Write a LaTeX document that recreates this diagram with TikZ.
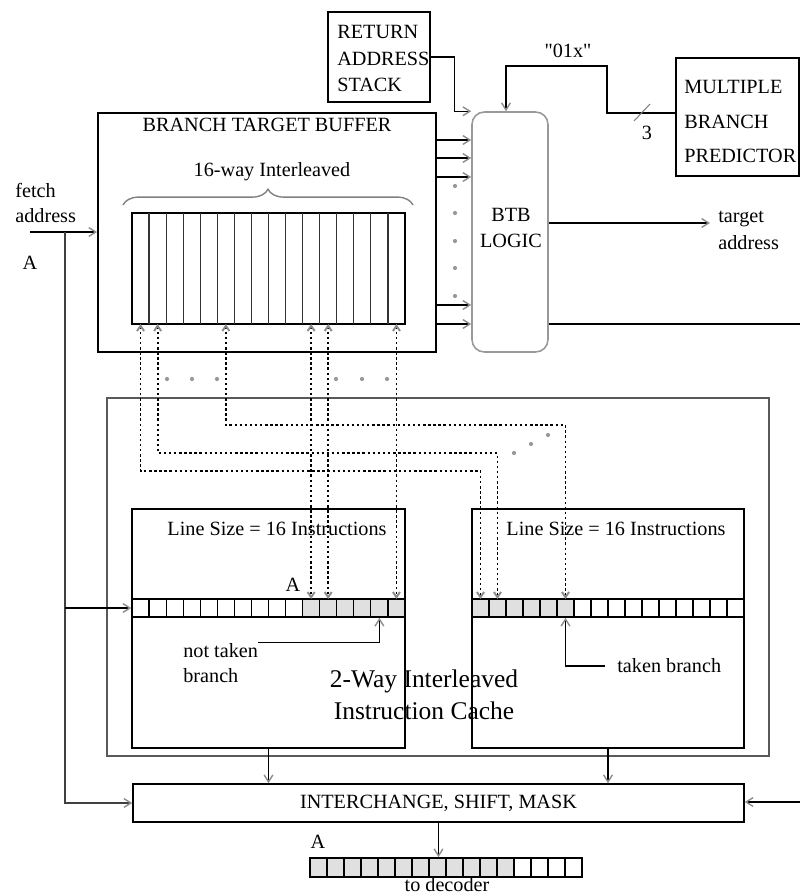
\documentclass[tikz,border=0pt]{standalone}
\usepackage{fontspec}
\setmainfont{Liberation Serif}
\newfontfamily\qfont{Liberation Serif}[Ligatures=TeXOff]
\usetikzlibrary{arrows.meta,decorations.pathreplacing,calc}
\begin{document}
\begin{tikzpicture}[x=0.02cm,y=-0.02cm,
  font=\fontsize{11.5}{14}\selectfont,
  >={Straight Barb[length=4pt,width=5pt,color=black!45]},
  txt/.style={inner sep=0pt},
  box/.style={draw, line width=0.9pt, inner sep=0pt},
  arr/.style={->, line width=0.8pt},
  ln/.style={line width=0.8pt},
  dl/.style={{Straight Barb[length=3pt,width=4pt,color=black!45]}-{Straight Barb[length=3pt,width=4pt,color=black!45]}, line width=1.1pt, dash pattern=on 1.4pt off 1.5pt},
  cellfill/.style={fill=black!12},
  dotc/.style={fill=black!40}
]
\useasboundingbox (0,0) rectangle (800,894);

% gray cells
\foreach \i in {10,...,15} \fill[cellfill] ({132+\i*17.0625},599) rectangle ({132+(\i+1)*17.0625},617);
\foreach \i in {0,...,5} \fill[cellfill] ({472+\i*17},599) rectangle ({472+(\i+1)*17},617);
\foreach \i in {0,...,11} \fill[cellfill] ({310+\i*17},858) rectangle ({310+(\i+1)*17},877);

% boxes
\node[box, minimum width=2.04cm, minimum height=1.8cm] (ras) at (379,57) {};
\node[box, line width=1pt, minimum width=6.76cm, minimum height=4.78cm] (btb) at (267,232.5) {};
\node[box, minimum width=5.46cm, minimum height=2.22cm] (barr) at (268.5,268.5) {};
\node[box, draw=black!40, rounded corners=7pt, minimum width=1.52cm, minimum height=4.8cm] (logic) at (510,232) {};
\node[box, minimum width=2.46cm, minimum height=2.36cm] (mbp) at (737.5,117) {};
\node[box, draw=black!65, line width=1.4pt, minimum width=13.24cm, minimum height=7.16cm] (icache) at (438,577) {};
\node[box, minimum width=5.46cm, minimum height=4.78cm] (lc) at (268.5,628.5) {};
\node[box, minimum width=5.44cm, minimum height=4.78cm] (rc) at (608,628.5) {};
\node[box, minimum width=5.46cm, minimum height=0.36cm] (lline) at (268.5,608) {};
\node[box, minimum width=5.44cm, minimum height=0.36cm] (rline) at (608,608) {};
\node[box, minimum width=12.22cm, minimum height=0.76cm] (ism) at (438.5,803) {INTERCHANGE, SHIFT, MASK};
\node[box, minimum width=5.44cm, minimum height=0.38cm] (dec) at (446,867.5) {};

% dividers
\foreach \i in {1,...,15} {
  \draw[line width=0.7pt, black!80] ({132+\i*17.0625},213) -- ++(0,111);
  \draw[line width=0.7pt] ({132+\i*17.0625},599) -- ++(0,18);
  \draw[line width=0.7pt] ({472+\i*17},599) -- ++(0,18);
  \draw[line width=0.7pt] ({310+\i*17},858) -- ++(0,19);
}
\foreach \k in {1,...,16} {
  \coordinate (bt\k) at ({132+(\k-0.5)*17.0625},324);
  \coordinate (lt\k) at ({132+(\k-0.5)*17.0625},599);
  \coordinate (rt\k) at ({472+(\k-0.5)*17},599);
}

% brace
\draw[black!50, line width=0.8pt, decorate, decoration={brace, amplitude=9pt}] (123,205) -- (413,205);

% texts
\node[txt, align=left, font=\fontsize{11.5}{15.3}\selectfont, anchor=west] (rast) at (337,58.5) {RETURN\\ADDRESS\\STACK};
\node[txt, align=left, font=\fontsize{11.5}{19.8}\selectfont, anchor=west] (mbpt) at (684,121.5) {MULTIPLE\\BRANCH\\PREDICTOR};
\node[txt] (btbt) at (267,124.5) {BRANCH TARGET BUFFER};
\node[txt] (w16) at (272,172) {16-way Interleaved};
\node[txt, align=center, font=\fontsize{11.5}{14.7}\selectfont] (logict) at (511,228) {BTB\\LOGIC};
\node[txt, font=\qfont\fontsize{11.5}{14}\selectfont] (lab01x) at (568,51) {"01x"};
\node[txt] (three) at (647,133) {3};
\node[txt, align=left, font=\fontsize{11.5}{15.3}\selectfont, anchor=west] (tadr) at (718,230) {target\\address};
\node[txt, align=left, font=\fontsize{11.5}{14.2}\selectfont, anchor=west] (fetch) at (15,203) {fetch\\address};
\node[txt] (A1) at (30,263) {A};
\node[txt] (ls1) at (277,529) {Line Size = 16 Instructions};
\node[txt] (ls2) at (616,529) {Line Size = 16 Instructions};
\node[txt] (A2) at (293,585) {A};
\node[txt, align=left, font=\fontsize{11.5}{14.7}\selectfont, anchor=west] (ntb) at (183,663) {not taken\\branch};
\node[txt, anchor=west] (tb) at (617,666) {taken branch};
\node[txt, align=center, font=\fontsize{14.5}{18}\selectfont] (icl) at (424,695) {2-Way Interleaved\\Instruction Cache};
\node[txt] (A3) at (318,842) {A};
\node[txt] (todec) at (447,885) {to decoder};

% connectors top
\draw[arr] (ras.east) -- ++(24,0) |- (logic.north west);
\draw[arr] (mbp.west |- 0,113) -| (607,66) -| ($(logic.north)+(-4,0)$);
\draw[black!50, line width=0.6pt] (634,121) -- (650,104);
\foreach \yy in {140,158,177,305,324} \draw[arr] (btb.east |- 0,\yy) -- (logic.west |- 0,\yy);
\foreach \yy in {186,213,241,268,296} \fill[dotc] (455,\yy) circle (1.2pt);
\draw[arr] (logic.east |- 0,223) -- ($(tadr.west |- 0,223)+(-8,0)$);
\coordinate (redge1) at (800,324);
\coordinate (redge2) at (800,802);
\draw[ln] (logic.east |- redge1) -- (redge1);
\draw[arr] (redge2) -- (ism.east |- redge2);

% fetch
\coordinate (fa) at (30,232);
\coordinate (fj) at (65,232);
\draw[arr] (fa) -- (btb.west |- fa);
\draw[arr, black!75] (fj) |- (ism.west);
\draw[arr] (fj |- lline.west) -- (lline.west);

% dotted connectors
\draw[dl] (bt1) -- ++(0,147) -| (rt1);
\draw[dl] (bt2) -- ++(0,129) -| (rt2);
\draw[dl] (bt6) -- ++(0,101) -| (rt6);
\draw[dl] (bt11) -- (lt11);
\draw[dl] (bt12) -- (lt12);
\draw[dl] (bt16) -- (lt16);
\foreach \xx in {167,192,217,336,362,387} \fill[dotc] (\xx,379) circle (1.2pt);
\fill[dotc] (514,453) circle (1.2pt);
\fill[dotc] (531,444) circle (1.2pt);
\fill[dotc] (548,435) circle (1.2pt);

% branch labels
\draw[arr] (ntb.north east) -| (lt15 |- lline.south);
\draw[arr] (tb.west) ++(-12,0) -| (rt6 |- rline.south);

% to interchange and decoder
\draw[arr] (lc.south) -- (lc.south |- ism.north);
\draw[arr] (rc.south) -- (rc.south |- ism.north);
\draw[arr] (ism.south) -- (ism.south |- dec.north);
\end{tikzpicture}
\end{document}
